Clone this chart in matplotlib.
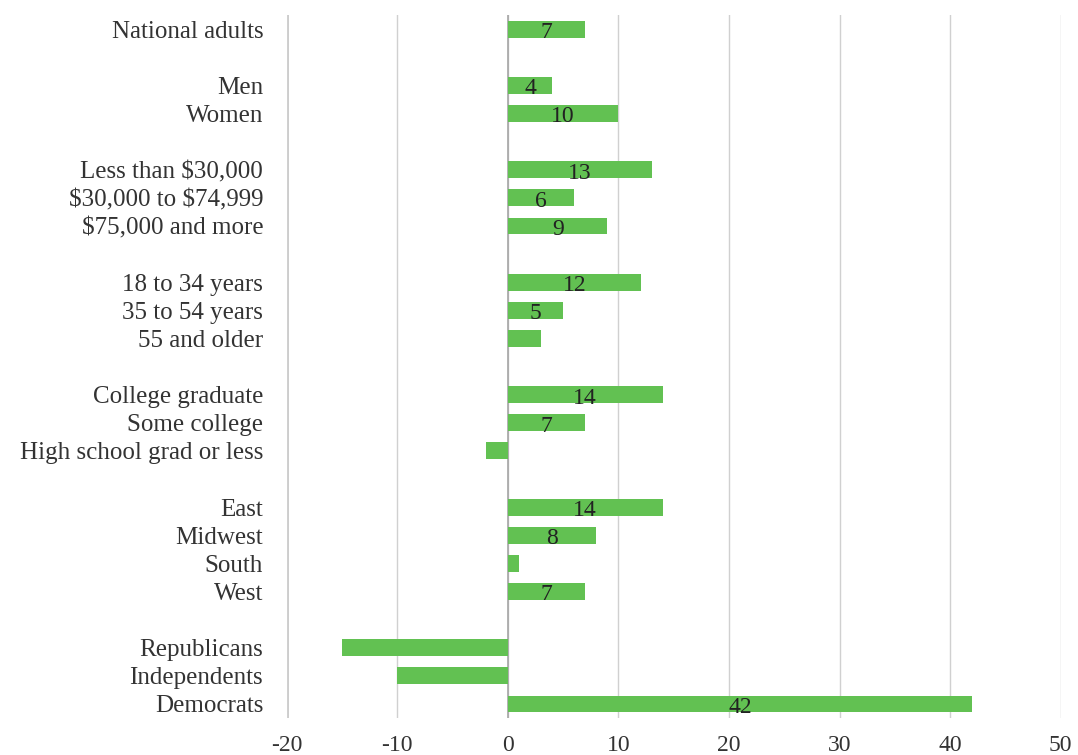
import numpy as np
import matplotlib
matplotlib.use('Agg')
import matplotlib.pyplot as plt

# groups of categories, separated by blank rows
groups = [
    ['National adults'],
    ['Men', 'Women'],
    ['Less than $30,000', '$30,000 to $74,999', '$75,000 and more'],
    ['18 to 34 years', '35 to 54 years', '55 and older'],
    ['College graduate', 'Some college', 'High school grad or less'],
    ['East', 'Midwest', 'South', 'West'],
    ['Republicans', 'Independents', 'Democrats'],
]
values = [
    [7],
    [4, 10],
    [13, 6, 9],
    [12, 5, 3],
    [14, 7, -2],
    [14, 8, 1, 7],
    [-15, -10, 42],
]
# labels shown on the bars (blank where the chart shows none)
bar_labels = [
    ['7'],
    ['4', '10'],
    ['13', '6', '9'],
    ['12', '5', ''],
    ['14', '7', ''],
    ['14', '8', '', '7'],
    ['', '', '42'],
]

names, vals, labs, ypos = [], [], [], []
row = 0
for g, v, l in zip(groups, values, bar_labels):
    for n, x, t in zip(g, v, l):
        names.append(n)
        vals.append(x)
        labs.append(t)
        ypos.append(row)
        row += 1
    row += 1  # gap between groups

plt.rcParams['font.family'] = ['Liberation Serif', 'DejaVu Serif']
plt.rcParams['text.parse_math'] = False
plt.rcParams['axes.unicode_minus'] = False

fig = plt.figure(figsize=(10.78, 7.55), dpi=100)
ax = fig.add_axes([0.266, 0.049, 0.718, 0.931])

green = '#62c152'
ax.barh(ypos, vals, height=0.6, color=green, zorder=3)

for y, x, t in zip(ypos, vals, labs):
    if t:
        ax.text(x / 2, y + 0.12, t, ha='center', va='center', fontsize=17,
                color='#222222', zorder=4)

ax.set_xlim(-20, 50)
ax.set_xticks(np.arange(-20, 51, 10))
ax.set_ylim(24.5, -0.5)
ax.set_yticks(ypos)
ax.set_yticklabels(names, fontsize=18, color='#333333')
ax.tick_params(axis='x', labelsize=17, colors='#333333', length=0, pad=12)
ax.tick_params(axis='y', length=0, pad=17)

ax.grid(axis='x', color='#d0d0d0', linewidth=1.0, zorder=0)
ax.axvline(0, color='#a6a6a6', linewidth=1.2, zorder=2)
ax.axvline(-20, color='#c8c8c8', linewidth=2.0, zorder=1)
for s in ax.spines.values():
    s.set_visible(False)

fig.savefig('out.png', dpi=100)
